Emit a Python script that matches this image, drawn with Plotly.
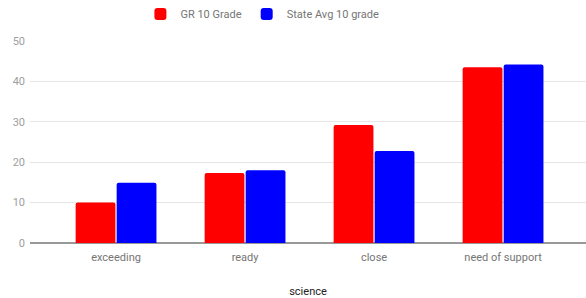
import plotly.graph_objects as go

categories = ["exceeding", "ready", "close", "need of support"]
gr10 = [10.0, 17.3, 29.2, 43.5]
state_avg = [14.9, 18.0, 22.8, 44.2]
series_names = ["GR 10 Grade", "State Avg 10 grade"]
x_title = "science"
y_ticks = [0, 10, 20, 30, 40, 50]

fig = go.Figure()
fig.add_trace(go.Bar(x=categories, y=gr10, name=series_names[0],
                     marker=dict(color="#ff0000", cornerradius=2, line=dict(width=0))))
fig.add_trace(go.Bar(x=categories, y=state_avg, name=series_names[1],
                     marker=dict(color="#0000ff", cornerradius=2, line=dict(width=0))))

fig.update_layout(
    width=586, height=298,
    margin=dict(l=30, r=0, t=41, b=55, autoexpand=False),
    paper_bgcolor="white", plot_bgcolor="white",
    font=dict(family="Roboto, Arial, sans-serif", size=11, color="#757575"),
    barmode="group", bargap=0.364, bargroupgap=0.03,
    legend=dict(orientation="h", x=0.418, xanchor="center", y=1.134, yanchor="middle",
                font=dict(size=11, color="#757575"), itemwidth=30, traceorder="normal"),
    xaxis=dict(range=[-0.667, 3.643], showgrid=False, showline=False, ticks="",
               automargin=False, ticklabelstandoff=6,
               title=dict(text=x_title, font=dict(size=11, color="#222222"), standoff=24),
               tickfont=dict(size=11, color="#757575")),
    yaxis=dict(range=[0, 50], tickvals=y_ticks, showgrid=True, gridcolor="#e6e6e6",
               automargin=False,
               zeroline=True, zerolinecolor="#999999", zerolinewidth=1.5, ticks="",
               tickfont=dict(size=11, color="#9e9e9e"), ticklabelstandoff=4),
)

fig.write_html("out.html", config={"displayModeBar": False},
               post_script="document.body.style.margin='0';")
